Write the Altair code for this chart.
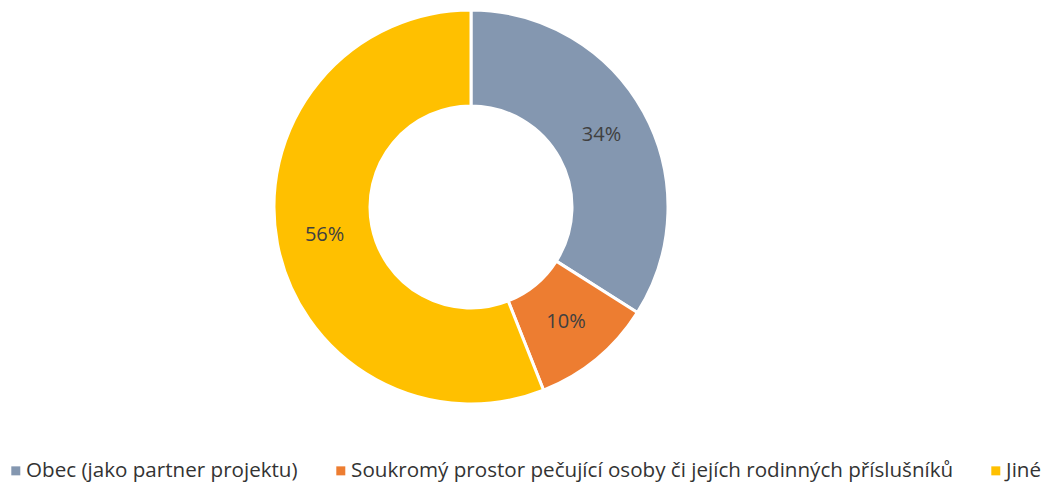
import altair as alt
import pandas as pd

categories = [
    "Obec (jako partner projektu)",
    "Soukromý prostor pečující osoby či jejích rodinných příslušníků",
    "Jiné",
]
values = [34, 10, 56]
labels = ["34%", "10%", "56%"]
colors = ["#8497B0", "#ED7D31", "#FFC000"]

df = pd.DataFrame({
    "category": categories,
    "value": values,
    "label": labels,
    "order": list(range(len(categories))),
})

FONT = "Open Sans"
CX, CY = 463, 199

base = alt.Chart(df).encode(
    theta=alt.Theta("value:Q", stack=True),
    order=alt.Order("order:Q"),
)

arcs = base.mark_arc(
    innerRadius=101, outerRadius=197, stroke="white", strokeWidth=3
).encode(
    x=alt.value(CX),
    y=alt.value(CY),
    color=alt.Color(
        "category:N",
        scale=alt.Scale(domain=categories, range=colors),
        sort=categories,
        legend=alt.Legend(
            title=None,
            orient="none",
            legendX=-2.5,
            legendY=452.5,
            direction="horizontal",
            columns=3,
            symbolType="square",
            symbolSize=81,
            symbolStrokeWidth=0,
            labelFont=FONT,
            labelFontSize=20.6,
            labelColor="#333333",
            labelLimit=0,
            labelOffset=0,
            columnPadding=32,
            symbolOffset=0,
            padding=0,
        ),
    ),
)

text = base.mark_text(radius=149, font=FONT, fontSize=20, color="#404040").encode(
    x=alt.value(CX),
    y=alt.value(CY),
    text="label:N",
)

chart = (
    alt.layer(arcs, text)
    .properties(width=1043, height=475, autosize="none", padding=0)
    .configure_view(stroke=None)
)

chart.save("out.html", embed_options={"renderer": "svg", "actions": False})
